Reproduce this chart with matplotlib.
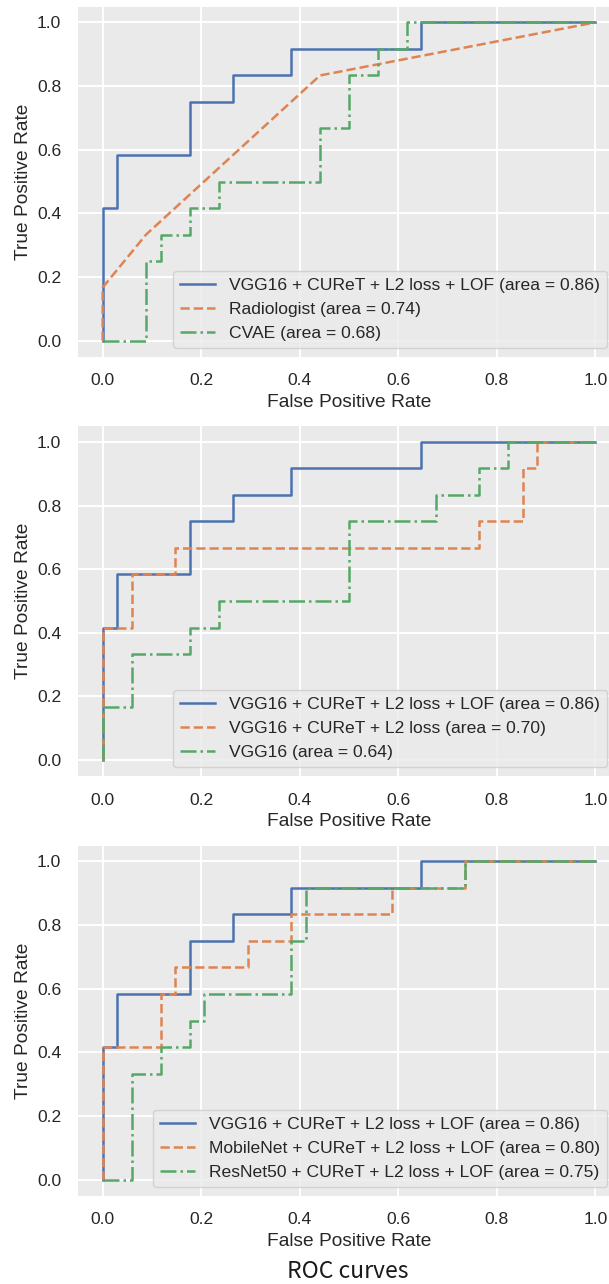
import matplotlib
matplotlib.use("Agg")
import matplotlib.pyplot as plt
import numpy as np

# ---------------- data ----------------
N = 34.0   # negatives (FPR step = 1/34)
P = 12.0   # positives (TPR step = 1/12)

# shared top model
vgg_lof_fpr = [0, 0, 1/N, 1/N, 6/N, 6/N, 9/N, 9/N, 13/N, 13/N, 22/N, 22/N, 1]
vgg_lof_tpr = [0, 5/P, 5/P, 7/P, 7/P, 9/P, 9/P, 10/P, 10/P, 11/P, 11/P, 1, 1]

# panel 1
radiologist_fpr = [0, 0, 3/N, 15/N, 1]
radiologist_tpr = [0, 2/P, 4/P, 10/P, 1]
cvae_fpr = [0, 3/N, 3/N, 4/N, 4/N, 6/N, 6/N, 8/N, 8/N, 15/N, 15/N, 17/N, 17/N,
            19/N, 19/N, 21/N, 21/N, 1]
cvae_tpr = [0, 0, 3/P, 3/P, 4/P, 4/P, 5/P, 5/P, 6/P, 6/P, 8/P, 8/P, 10/P,
            10/P, 11/P, 11/P, 1, 1]

# panel 2
vgg_l2_fpr = [0, 0, 2/N, 2/N, 5/N, 5/N, 26/N, 26/N, 29/N, 29/N, 30/N, 30/N, 1]
vgg_l2_tpr = [0, 5/P, 5/P, 7/P, 7/P, 8/P, 8/P, 9/P, 9/P, 11/P, 11/P, 1, 1]
vgg_fpr = [0, 0, 2/N, 2/N, 6/N, 6/N, 8/N, 8/N, 17/N, 17/N, 23/N, 23/N, 26/N,
           26/N, 28/N, 28/N, 1]
vgg_tpr = [0, 2/P, 2/P, 4/P, 4/P, 5/P, 5/P, 6/P, 6/P, 9/P, 9/P, 10/P, 10/P,
           11/P, 11/P, 1, 1]

# panel 3
mobilenet_fpr = [0, 0, 4/N, 4/N, 5/N, 5/N, 10/N, 10/N, 13/N, 13/N, 20/N, 20/N,
                 25/N, 25/N, 1]
mobilenet_tpr = [0, 5/P, 5/P, 7/P, 7/P, 8/P, 8/P, 9/P, 9/P, 10/P, 10/P, 11/P,
                 11/P, 1, 1]
resnet_fpr = [0, 2/N, 2/N, 4/N, 4/N, 6/N, 6/N, 7/N, 7/N, 13/N, 13/N, 14/N,
              14/N, 25/N, 25/N, 1]
resnet_tpr = [0, 0, 4/P, 4/P, 5/P, 5/P, 6/P, 6/P, 7/P, 7/P, 9/P, 9/P, 11/P,
              11/P, 1, 1]

panel_labels = [
    ["VGG16 + CUReT + L2 loss + LOF (area = 0.86)",
     "Radiologist (area = 0.74)",
     "CVAE (area = 0.68)"],
    ["VGG16 + CUReT + L2 loss + LOF (area = 0.86)",
     "VGG16 + CUReT + L2 loss (area = 0.70)",
     "VGG16 (area = 0.64)"],
    ["VGG16 + CUReT + L2 loss + LOF (area = 0.86)",
     "MobileNet + CUReT + L2 loss + LOF (area = 0.80)",
     "ResNet50 + CUReT + L2 loss + LOF (area = 0.75)"],
]
panel_data = [
    [(vgg_lof_fpr, vgg_lof_tpr), (radiologist_fpr, radiologist_tpr), (cvae_fpr, cvae_tpr)],
    [(vgg_lof_fpr, vgg_lof_tpr), (vgg_l2_fpr, vgg_l2_tpr), (vgg_fpr, vgg_tpr)],
    [(vgg_lof_fpr, vgg_lof_tpr), (mobilenet_fpr, mobilenet_tpr), (resnet_fpr, resnet_tpr)],
]
ticks = [0.0, 0.2, 0.4, 0.6, 0.8, 1.0]
caption = "ROC curves"

# ---------------- style ----------------
colors = ["#4C72B0", "#DD8452", "#55A868"]
styles = ["-", "--", "-."]

plt.rcParams["font.family"] = ["Liberation Sans", "DejaVu Sans"]
plt.rcParams["axes.facecolor"] = "#EAEAEA"
plt.rcParams["axes.edgecolor"] = "white"
plt.rcParams["grid.color"] = "white"
plt.rcParams["axes.linewidth"] = 0

W, H = 609, 1284
fig = plt.figure(figsize=(W / 100, H / 100), dpi=100)

tops = [6.5, 426, 845.5]
ax_h = 350
ax_left = 78
ax_w = 542

for i in range(3):
    ax = fig.add_axes([ax_left / W, 1 - (tops[i] + ax_h) / H, ax_w / W, ax_h / H])
    ax.set_axisbelow(True)
    ax.grid(True, color="white", linewidth=1.4)
    for (fx, ty), lab, c, ls in zip(panel_data[i], panel_labels[i], colors, styles):
        ax.plot(fx, ty, color=c, linestyle=ls, linewidth=1.8, label=lab)
    ax.set_xlim(-0.05, 1.05)
    ax.set_ylim(-0.05, 1.05)
    ax.set_xticks(ticks)
    ax.set_yticks(ticks)
    ax.tick_params(length=0, labelsize=12.6, pad=12, colors="#262626")
    for s in ax.spines.values():
        s.set_visible(False)
    ax.set_xlabel("False Positive Rate", fontsize=13.8, color="#262626", labelpad=4)
    ax.set_ylabel("True Positive Rate", fontsize=13.8, color="#262626", labelpad=4)
    leg = ax.legend(loc="lower right", fontsize=12.6, framealpha=0.8,
                    facecolor="#EAEAEA", edgecolor="#CCCCCC",
                    bbox_to_anchor=(0.0, 0.0, 1.0 - 4 / ax_w, 1.0))
    for t in leg.get_texts():
        t.set_color("#262626")

fig.text(348 / W, 1 - 1272 / H, caption, ha="center", va="center",
         fontsize=16.5, family=["Noto Sans CJK SC", "DejaVu Sans"], color="#1a1a1a")

fig.savefig("out.png", dpi=100)
